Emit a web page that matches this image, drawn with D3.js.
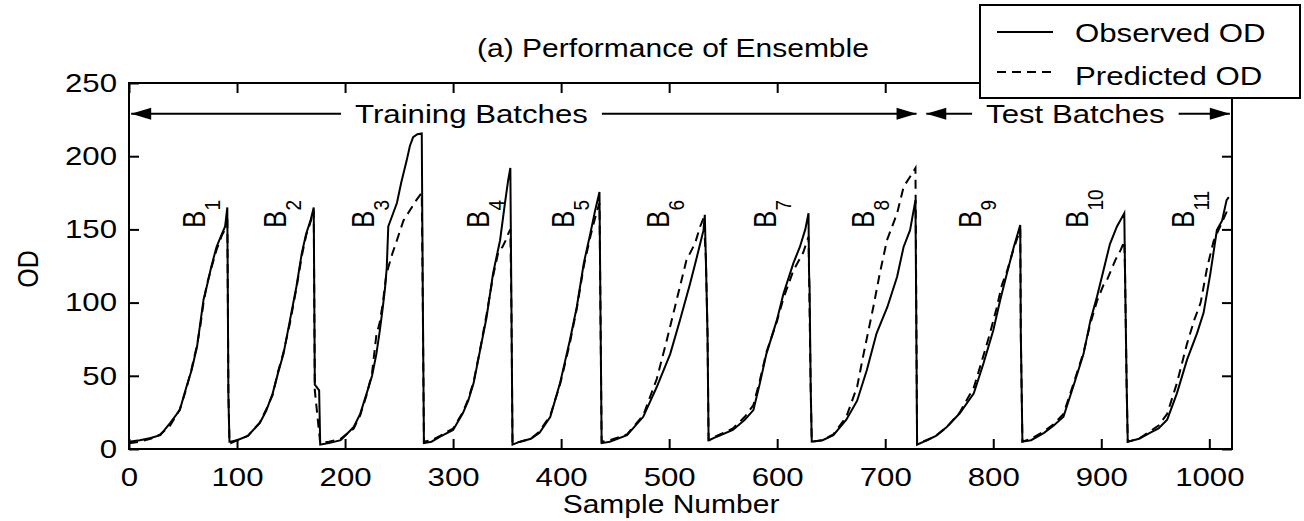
<!DOCTYPE html>
<html>
<head>
<meta charset="utf-8">
<title>(a) Performance of Ensemble</title>
<script src="https://cdn.jsdelivr.net/npm/d3@7"></script>
<style>
body { margin: 0; background: #fff; }
text { font-family: "Liberation Sans", Arial, sans-serif; fill: #000; }
</style>
</head>
<body>
<script>
var w = 1304, h = 521;
var sx = 1.2; // the original figure is stretched sideways

var xTicks = [0, 100, 200, 300, 400, 500, 600, 700, 800, 900, 1000];
var yTicks = [0, 50, 100, 150, 200, 250];

// batch labels (B1..B11), placed at sample number / OD
var batchNames = ["1", "2", "3", "4", "5", "6", "7", "8", "9", "10", "11"];
var labelAt = [70, 145, 227, 333, 412, 500, 599, 690, 789, 888, 986];
var labelOD = 151;

var trainingSpan = [2, 729], testSpan = [738, 1019];
var trainingLabelAt = 317, testLabelAt = 876;
var spanOD = 229;

// observed OD, one list per batch: [sample, OD]
var observed = [
	[[0,5],[10,6],[20,7.5],[29,9.5],[38,17.7],[47,26.6],[53,42],[58,54],[63,70],[66,86],[69,102],[72,111],[76,124],[81,138],[86,147],[89,152],[91,165],[92,36],[93,5]],
	[[94,5],[100,6],[110,9],[121,17.7],[127,26],[133,38],[138,52],[143,65],[149,88],[155,111],[160,134],[164,147],[168,156],[171,165],[172,44],[176,40],[177,3]],
	[[177,3],[185,4],[196,6],[208,15],[214,24],[220,38],[225,50],[229,65],[232,80],[235,97],[237,110],[238.6,124],[240,152],[244,160],[248,168],[252,182],[257,197],[260,207],[263,213],[267,215],[271,215.6],[272,100],[273,4]],
	[[273,4],[280,5],[288,8.4],[300,13],[309,24.4],[314,33],[319,45],[325,67.5],[331,90],[337,120],[343.5,142.6],[348,168],[351,183.6],[353,192],[354,97],[355,3]],
	[[355,3],[362,5],[372,7],[380,11],[390,22],[399,45],[408,74],[414.5,97],[421,127],[427,147],[431.5,163],[435.5,175.6],[436.5,88],[437.5,4]],
	[[437.5,4],[445,5],[461,9.5],[476,22],[488.6,42.5],[501,65],[510,88],[519.4,113],[525.6,131],[531.8,149.5],[533,160],[534,129],[535.5,79],[536.5,6]],
	[[537,6],[544,8.4],[559,13],[570,20],[578,26.6],[584,45],[590,65],[599.7,88],[605.8,106],[615,127],[621,138],[626,150],[629,161],[629.5,120],[630,110],[631,42.5],[632,5]],
	[[632,5],[642,6],[652,9.5],[664,20],[674,33],[683,54],[692,79],[702,97],[711,117.6],[717,138],[723,149.5],[728,170],[729.5,3]],
	[[729.5,3],[738.5,6],[747,9],[757,15],[769,24.4],[782,38],[791,58.6],[800,81],[806.5,102],[812.7,120],[819,138],[825,153],[825.5,79],[827,5]],
	[[827,5],[835,6],[847,11],[856,16],[865,22],[874,42.5],[883.6,65],[890,88],[896,104],[902,122],[908,140],[914.5,152],[921.3,161],[922,120],[923.5,42.5],[924.5,5]],
	[[924.5,5],[935,7],[945,11],[953,14],[961,20],[970,38],[979.4,61],[988.6,79],[994.7,93],[1001,120],[1007,149.5],[1011.8,156],[1016,170],[1018,172]]
];

// predicted OD, one list per batch: [sample, OD]
var predicted = [
	[[0,4],[10,5],[20,7],[29,10],[38,16],[47,27],[53,41],[58,55],[63,71],[66,84],[69,100],[72,112],[76,123],[81,136],[86,146],[89,150],[91,160],[92,40],[93,4]],
	[[94,4],[100,6],[110,9],[121,18],[127,27],[133,37],[138,53],[143,66],[149,86],[155,110],[160,132],[164,146],[168,155],[171,163],[172,40],[177,4]],
	[[177,4],[185,5],[196,7],[208,14],[214,23],[220,37],[225,52],[229,78],[232,86],[235,100],[238,118],[240,124],[244,134],[248,142.6],[254,156],[261.7,165],[266,170],[271,175],[272,95],[273,5]],
	[[273,5],[280,6],[288,9],[300,14],[309,25],[314,34],[319,46],[325,68],[331,92],[337,118],[342,135],[345.7,138],[349,143],[351,147],[353,150],[354,95],[355,4]],
	[[355,4],[362,5],[372,7],[380,12],[390,23],[399,44],[408,72],[414.5,96],[421,125],[427,145],[431.5,158],[435.5,168],[436.5,88],[437.5,5]],
	[[437.5,5],[445,6],[461,10],[476,23],[488.6,48],[497.7,74],[507,102],[516,129],[524,140.5],[528.7,152],[532,158],[534,130],[535.5,80],[536.5,6]],
	[[537,6],[544,9],[559,14],[570,22],[578,30],[584,47],[590,66],[599.7,87],[605.8,103],[615,122],[621,130],[624,134],[629,145],[629.5,120],[631,42],[632,5]],
	[[632,5],[642,6],[652,10],[664,22],[674,42.5],[680,65],[689,97],[695,120],[701.6,142.6],[711,161],[717,179],[723,186],[728,192],[729.5,4]],
	[[729.5,4],[738.5,6],[747,9],[757,15],[769,25],[782,42],[791,64],[797,79],[803,96],[808,112],[813,122],[819,137],[825,150],[825.5,79],[827,5]],
	[[827,5],[835,7],[847,12],[856,17],[865,24],[874,44],[883.6,66],[890,86],[896,101],[902,112],[905,115],[909,122],[913,129],[918,136],[921.3,142],[922,120],[923.5,42],[924.5,5]],
	[[924.5,5],[935,7],[945,12],[953,16],[961,24],[970,45],[979.4,72],[986,88],[992,100],[998,124],[1004,142],[1010,152],[1016,162],[1018,166]]
];

var svg = d3.select("body").append("svg").attr("width", w).attr("height", h);

var x = d3.scaleLinear().domain([0, 1021]).range([129, 1232]);
var y = d3.scaleLinear().domain([0, 250]).range([449, 83]);

function styleAxis(g) {
	g.select(".domain").remove();
	g.selectAll(".tick line").attr("stroke", "#000").attr("stroke-width", 2);
	g.selectAll(".tick text").style("font-size", "26px").attr("transform", "scale(" + sx + ",1)");
}

svg.append("g").attr("transform", "translate(0,449)")
	.call(d3.axisBottom(x).tickValues(xTicks).tickFormat(d3.format("d")).tickSize(-10).tickPadding(19)).call(styleAxis);
svg.append("g").attr("transform", "translate(129,0)")
	.call(d3.axisLeft(y).tickValues(yTicks).tickFormat(d3.format("d")).tickSize(-10).tickPadding(10)).call(styleAxis);
svg.append("g").attr("transform", "translate(0,83)")
	.call(d3.axisTop(x).tickValues(xTicks).tickSize(-10).tickFormat("")).call(styleAxis);
svg.append("g").attr("transform", "translate(1232,0)")
	.call(d3.axisRight(y).tickValues(yTicks).tickSize(-10).tickFormat("")).call(styleAxis);

svg.append("rect").attr("x", 129).attr("y", 83).attr("width", 1232 - 129).attr("height", 449 - 83)
	.attr("fill", "none").attr("stroke", "#000").attr("stroke-width", 2);

var line = d3.line().x(function(d){return x(d[0]);}).y(function(d){return y(d[1]);});

svg.append("path").datum(d3.merge(observed)).attr("d", line)
	.attr("fill", "none").attr("stroke", "#000").attr("stroke-width", 2);
svg.append("path").datum(d3.merge(predicted)).attr("d", line)
	.attr("fill", "none").attr("stroke", "#000").attr("stroke-width", 2).attr("stroke-dasharray", "9,6");

// batch labels
batchNames.forEach(function(n, i) {
	var t = svg.append("text")
		.attr("transform", "translate(" + x(labelAt[i]) + "," + y(labelOD) + ") scale(" + sx + ",1) rotate(-90)")
		.style("font-size", "26px");
	t.append("tspan").text("B");
	t.append("tspan").attr("dy", 12.5).style("font-size", "19px").text(n);
});

// training / test arrows
function arrowHead(tx, ty, dir) {
	svg.append("path")
		.attr("d", "M" + tx + "," + ty + "L" + (tx - dir * 20) + "," + (ty - 6) + "L" + (tx - dir * 20) + "," + (ty + 6) + "Z")
		.attr("fill", "#000");
}
function span(range, labelAt, label) {
	var yy = y(spanOD);
	svg.append("line").attr("x1", x(range[0])).attr("x2", x(range[1])).attr("y1", yy).attr("y2", yy)
		.attr("stroke", "#000").attr("stroke-width", 2);
	arrowHead(x(range[0]), yy, -1);
	arrowHead(x(range[1]), yy, 1);
	var bg = svg.append("rect").attr("fill", "#fff");
	var t = svg.append("text").attr("transform", "translate(" + x(labelAt) + "," + (yy + 9) + ") scale(" + sx + ",1)")
		.attr("text-anchor", "middle").style("font-size", "26px").text(label);
	var tw = t.node().getComputedTextLength() * sx;
	bg.attr("x", x(labelAt) - tw / 2 - 14).attr("width", tw + 28).attr("y", yy - 4).attr("height", 8);
}
span(trainingSpan, trainingLabelAt, "Training Batches");
span(testSpan, testLabelAt, "Test Batches");

// title and axis labels
svg.append("text").attr("transform", "translate(673,57) scale(" + sx + ",1)")
	.attr("text-anchor", "middle").style("font-size", "25px").text("(a) Performance of Ensemble");
svg.append("text").attr("transform", "translate(671,513) scale(" + sx + ",1)")
	.attr("text-anchor", "middle").style("font-size", "25px").text("Sample Number");
svg.append("text").attr("transform", "translate(38,269) scale(" + sx + ",1) rotate(-90)")
	.attr("text-anchor", "middle").style("font-size", "25px").text("OD");

// legend
var lg = svg.append("g");
lg.append("rect").attr("x", 980).attr("y", 5).attr("width", 320).attr("height", 93)
	.attr("fill", "#fff").attr("stroke", "#000").attr("stroke-width", 2);
lg.append("line").attr("x1", 997).attr("x2", 1053).attr("y1", 32).attr("y2", 32)
	.attr("stroke", "#000").attr("stroke-width", 2);
lg.append("line").attr("x1", 997).attr("x2", 1053).attr("y1", 72).attr("y2", 72)
	.attr("stroke", "#000").attr("stroke-width", 2).attr("stroke-dasharray", "9,6");
lg.append("text").attr("transform", "translate(1075,42) scale(" + sx + ",1)").style("font-size", "26px").text("Observed OD");
lg.append("text").attr("transform", "translate(1075,85) scale(" + sx + ",1)").style("font-size", "26px").text("Predicted OD");
</script>
</body>
</html>
